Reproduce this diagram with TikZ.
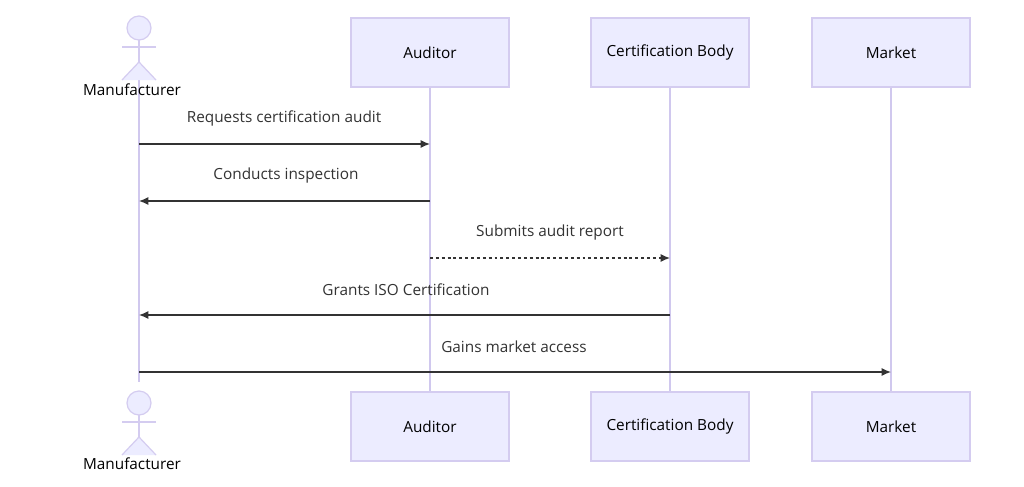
\documentclass[tikz,border=0pt]{standalone}
\usepackage{fontspec}
\setmainfont{Open Sans}
\usetikzlibrary{arrows.meta}
\definecolor{boxfill}{HTML}{ECECFF}
\definecolor{boxline}{HTML}{D4CCF0}
\definecolor{life}{HTML}{D0C8EE}
\definecolor{ink}{HTML}{333333}
\begin{document}
\begin{tikzpicture}[x=0.75pt,y=-0.75pt,
  box/.style={draw=boxline,fill=boxfill,line width=0.8pt,minimum width=118.5pt,minimum height=51.75pt,inner sep=0pt,font=\fontsize{11.5}{13}\selectfont,text=black},
  lbl/.style={font=\fontsize{11.5}{13}\selectfont,text=ink},
  msg/.style={draw=ink,line width=0.9pt,-{Latex[length=7pt,width=6pt]}},
  lifeline/.style={draw=life,line width=0.9pt},
  actorline/.style={draw=boxline,fill=boxfill,line width=0.9pt}]
\useasboundingbox (0,0) rectangle (1024,486);
\fill[white] (0,0) rectangle (1024,486);
% lifelines
\coordinate (m1) at (139,62); \coordinate (m2) at (139,392);
\draw[lifeline] (m1) -- (m2);
\node[box] (a1) at (430,52.5) {Auditor};
\node[box] (a2) at (430,426.5) {Auditor};
\node[box] (c1) at (670,52.5) {Certification Body};
\node[box] (c2) at (670,426.5) {Certification Body};
\node[box] (k1) at (891,52.5) {Market};
\node[box] (k2) at (891,426.5) {Market};
\draw[lifeline] (a1) -- (a2);
\draw[lifeline] (c1) -- (c2);
\draw[lifeline] (k1) -- (k2);
\fill[white] (120,382) rectangle (160,392);
% actors
\foreach \y/\n in {0/t,375/b}{
  \draw[actorline] (139,28+\y) circle (12);
  \draw[actorline] (139,40+\y) -- (139,62+\y);
  \draw[actorline] (122,47+\y) -- (156,47+\y);
  \draw[actorline] (122,80+\y) -- (139,62+\y) -- (156,80+\y);
}
\node[lbl,text=black] (mt) at (132,90) {Manufacturer};
\node[lbl,text=black] (mb) at (132,464) {Manufacturer};
% messages
\coordinate (p1) at (139,144); \coordinate (q1) at (430,144);
\draw[msg] (p1) -- (q1);
\node[lbl] (l1) at (284,118) {Requests certification audit};
\coordinate (p2) at (430,201); \coordinate (q2) at (139,201);
\draw[msg] (p2) -- (q2);
\node[lbl] (l2) at (286,176) {Conducts inspection};
\coordinate (p3) at (430,258); \coordinate (q3) at (670,258);
\draw[msg,dash pattern=on 2.2pt off 2.2pt] (p3) -- (q3);
\node[lbl] (l3) at (550,233) {Submits audit report};
\coordinate (p4) at (670,315); \coordinate (q4) at (139,315);
\draw[msg] (p4) -- (q4);
\node[lbl] (l4) at (406,290) {Grants ISO Certification};
\coordinate (p5) at (139,372); \coordinate (q5) at (891,372);
\draw[msg] (p5) -- (q5);
\node[lbl] (l5) at (514,347) {Gains market access};
\end{tikzpicture}
\end{document}
